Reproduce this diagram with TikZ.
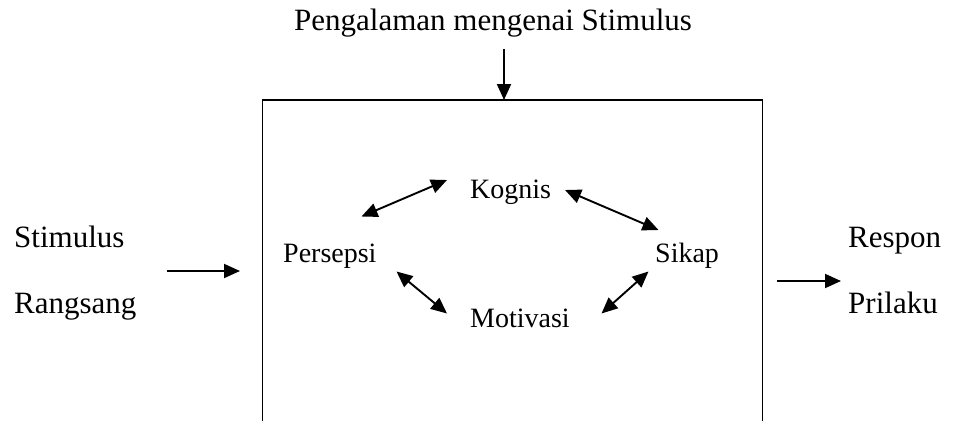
\documentclass[tikz,border=0pt]{standalone}
\usepackage{fontspec}
\setmainfont{Liberation Serif}
\usetikzlibrary{arrows.meta}
\tikzset{
  big/.style={inner sep=0pt, anchor=base west, font=\fontsize{31}{36}\selectfont},
  small/.style={inner sep=0pt, anchor=base west, font=\fontsize{28}{33}\selectfont},
  arr/.style={line width=1.9pt, -{Triangle[length=16pt,width=14pt]}},
  darr/.style={line width=1.9pt, {Triangle[length=16pt,width=14pt]}-{Triangle[length=16pt,width=14pt]}},
  boxline/.style={line width=1.9pt}
}
\begin{document}
\begin{tikzpicture}[x=1pt,y=-1pt]
\useasboundingbox (0,0) rectangle (954,421);
% labels
\node[big, anchor=base] (peng) at (493,30) {Pengalaman mengenai Stimulus};
\node[big] (stim) at (14,247) {Stimulus};
\node[big] (rang) at (14,313) {Rangsang};
\node[big] (resp) at (848,247) {Respon};
\node[big] (pril) at (848,313) {Prilaku};
\node[small] (kog) at (470,198) {Kognis};
\node[small] (pers) at (283,262) {Persepsi};
\node[small] (sik) at (655,262) {Sikap};
\node[small] (mot) at (470,327) {Motivasi};
% box (open at the bottom edge)
\coordinate (bl) at (262.5,421);
\coordinate (tl) at (262.5,100);
\coordinate (tr) at (762.5,100);
\coordinate (br) at (762.5,421);
\draw[boxline] (bl) -- (tl) -- (tr) -- (br);
% top arrow
\coordinate (ta) at (504,49);
\coordinate (tb) at (504,100);
\draw[arr] (ta) -- (tb);
% left and right arrows
\coordinate (la) at (167,271);
\coordinate (lb) at (240,271);
\draw[arr] (la) -- (lb);
\coordinate (ra) at (777,281);
\coordinate (rb) at (841,281);
\draw[arr] (ra) -- (rb);
% inner double arrows
\coordinate (pk1) at (361.5,216.5);
\coordinate (pk2) at (447,180);
\draw[darr] (pk1) -- (pk2);
\coordinate (ks1) at (565,190);
\coordinate (ks2) at (658.5,230);
\draw[darr] (ks1) -- (ks2);
\coordinate (pm1) at (396.5,271.5);
\coordinate (pm2) at (447,313.5);
\draw[darr] (pm1) -- (pm2);
\coordinate (ms1) at (601.5,313.5);
\coordinate (ms2) at (648.5,271.5);
\draw[darr] (ms1) -- (ms2);
\end{tikzpicture}
\end{document}
